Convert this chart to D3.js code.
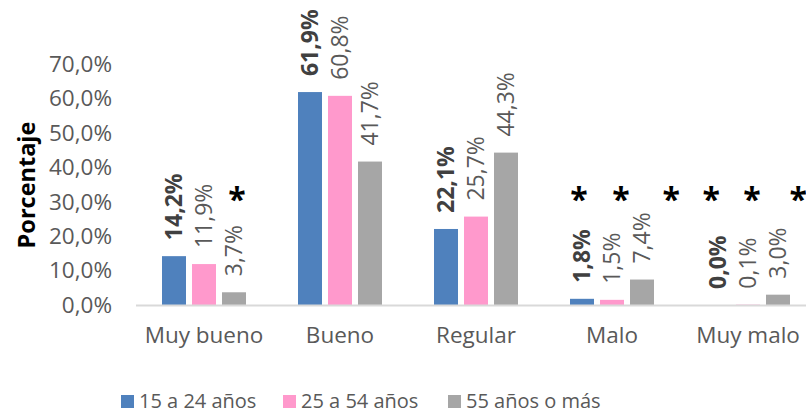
<!DOCTYPE html>
<html>
<head>
<meta charset="utf-8">
<title>Porcentaje por grupo de edad</title>
<script src="https://d3js.org/d3.v7.min.js"></script>
<style>
  body { margin: 0; background: #fff; }
  text { font-family: "Open Sans", "Noto Sans", sans-serif; }
</style>
</head>
<body>
<svg id="chart" width="806" height="414"></svg>
<script>
// data
var categories = ["Muy bueno", "Bueno", "Regular", "Malo", "Muy malo"];
var series = ["15 a 24 años", "25 a 54 años", "55 años o más"];
var joven = [14.2, 61.9, 22.1, 1.8, 0.0];
var adulto = [11.9, 60.8, 25.7, 1.5, 0.1];
var mayor = [3.7, 41.7, 44.3, 7.4, 3.0];
var yTicks = [0, 10, 20, 30, 40, 50, 60, 70];
// asterisks: category, slot within group (0 = first bar), height in %
var asterisks = [
    {cat: "Muy bueno", slot: 2.1, value: 32},
    {cat: "Malo", slot: -0.1, value: 32},
    {cat: "Malo", slot: 1.3, value: 32},
    {cat: "Malo", slot: 2.97, value: 32},
    {cat: "Muy malo", slot: -0.23, value: 32},
    {cat: "Muy malo", slot: 1.13, value: 32},
    {cat: "Muy malo", slot: 2.67, value: 32}
];

var colors = ["#4F81BD", "#FF99CC", "#A6A6A6"];
var values = [joven, adulto, mayor];

var svg = d3.select("#chart");

var x0 = d3.scaleBand().domain(categories).range([136, 816]);
var x1 = d3.scaleBand().domain(series).range([0, 84]).paddingInner(0.2);
var groupOffset = (x0.bandwidth() - 84) / 2;
var y = d3.scaleLinear().domain([0, 70]).range([305, 64.2]);

var fmt = function (v) { return d3.format(".1f")(v).replace(".", ",") + "%"; };

// y axis labels
var yAxis = d3.axisLeft(y).tickValues(yTicks).tickFormat(fmt).tickSize(0).tickPadding(0);
svg.append("g")
    .attr("transform", "translate(112,0)")
    .call(yAxis)
    .call(function (g) {
        g.select(".domain").remove();
        g.selectAll("text")
            .attr("fill", "#595959")
            .style("font-size", "22.5px")
            .style("font-family", "'Open Sans', sans-serif");
    });

// bars
series.forEach(function (s, si) {
    var rows = categories.map(function (c, ci) { return {cat: c, v: values[si][ci]}; });
    svg.append("g").selectAll("rect")
        .data(rows)
        .enter().append("rect")
        .attr("x", function (d) { return x0(d.cat) + groupOffset + x1(s); })
        .attr("y", function (d) { return y(d.v); })
        .attr("width", x1.bandwidth())
        .attr("height", function (d) { return y(0) - y(d.v); })
        .attr("fill", colors[si]);

    svg.append("g").selectAll("text")
        .data(rows)
        .enter().append("text")
        .attr("transform", function (d) {
            var cx = x0(d.cat) + groupOffset + x1(s) + x1.bandwidth() / 2;
            return "translate(" + cx + "," + (y(d.v) - 16) + ") rotate(-90)";
        })
        .attr("dy", "0.35em")
        .attr("fill", si === 0 ? "#404040" : "#595959")
        .style("font-size", "23px")
        .style("font-weight", si === 0 ? "bold" : "normal")
        .text(function (d) { return fmt(d.v); });
});

// baseline
svg.append("line")
    .attr("x1", 136).attr("x2", 816)
    .attr("y1", y(0) + 0.5).attr("y2", y(0) + 0.5)
    .attr("stroke", "#D9D9D9")
    .attr("stroke-width", 2);

// category labels
var xAxis = d3.axisBottom(x0).tickSize(0).tickPadding(0);
svg.append("g")
    .attr("transform", "translate(0,327)")
    .call(xAxis)
    .call(function (g) {
        g.select(".domain").remove();
        g.selectAll("text")
            .attr("fill", "#595959")
            .style("font-size", "22.5px")
            .style("font-family", "'Open Sans', sans-serif");
    });

// asterisks
svg.append("g").selectAll("text")
    .data(asterisks)
    .enter().append("text")
    .attr("x", function (d) { return x0(d.cat) + groupOffset + d.slot * x1.step() + x1.bandwidth() / 2; })
    .attr("y", function (d) { return y(d.value) + 16; })
    .attr("text-anchor", "middle")
    .attr("fill", "#000")
    .style("font-size", "32px")
    .style("font-weight", "bold")
    .text("*");

// y title
svg.append("text")
    .attr("transform", "translate(27,185) rotate(-90)")
    .attr("text-anchor", "middle")
    .attr("dy", "0.35em")
    .attr("fill", "#000")
    .style("font-size", "23.5px")
    .style("font-weight", "bold")
    .text("Porcentaje");

// legend
var legendX = [121, 283, 448];
var legend = svg.append("g").selectAll("g")
    .data(series)
    .enter().append("g")
    .attr("transform", function (d, i) { return "translate(" + legendX[i] + ",395)"; });
legend.append("rect")
    .attr("width", 13).attr("height", 13)
    .attr("fill", function (d, i) { return colors[i]; });
legend.append("text")
    .attr("x", 18).attr("y", 7)
    .attr("dy", "0.32em")
    .attr("fill", "#595959")
    .style("font-size", "20px")
    .text(function (d) { return d; });
</script>
</body>
</html>
